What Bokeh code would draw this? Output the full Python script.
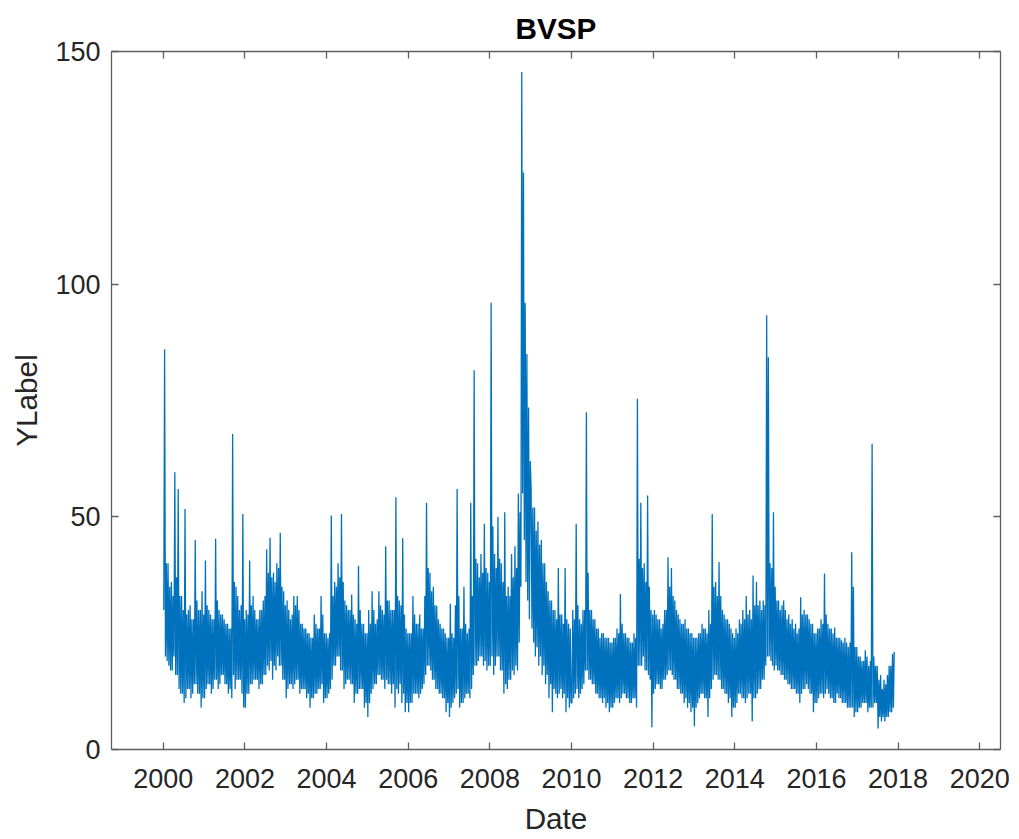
from bokeh.plotting import figure
from bokeh.models import Range1d, LinearAxis, FixedTicker, ColumnDataSource
from bokeh.embed import file_html
from bokeh.resources import INLINE

# Weekly readings of the BVSP series (4 per month, Jan..Dec), per year
vol_2000 = [30, 86, 20, 40,  19, 40, 18, 35,  17, 36, 17, 33,  20, 59.6, 16, 37,
            16, 56, 13, 33,  12, 33, 12, 30,  10, 51.7, 11, 29,  13, 30, 13, 31,
            11, 28, 12, 28,  14, 45, 14, 32,  12, 30, 12, 30,  9, 34, 11, 29]
vol_2001 = [11, 40.6, 13, 31,  14, 30, 14, 29,  12, 28, 13, 28,  15, 45.3, 15, 32,
            13, 30, 14, 29,  16, 29, 16, 28,  14, 27, 14, 27,  12, 26, 13, 26,
            11, 67.8, 16, 36,  13, 35, 15, 33,  15, 30, 15, 31,  12, 50.6, 9, 28]
vol_2002 = [9, 30, 12, 29,  12, 40.6, 14, 31,  14, 33, 15, 30,  15, 28, 15, 28,
            13, 30, 14, 30,  14, 32, 16, 33,  16, 43, 18, 38,  17, 45.5, 19, 37,
            15, 38, 18, 36,  17, 40, 20, 39,  18, 46.6, 18, 35,  15, 34, 15, 31]
vol_2003 = [11, 32, 13, 30,  14, 28, 14, 29,  13, 33, 14, 31,  15, 33, 15, 30,
            12, 27, 13, 27,  13, 26, 13, 26,  11, 25, 12, 25,  9, 24, 11, 24,
            11, 29, 12, 27,  12, 26, 13, 26,  13, 33, 14, 29,  10, 25, 11, 25]
vol_2004 = [11, 24, 12, 25,  13, 50.3, 15, 33,  18, 36, 18, 35,  20, 40, 20, 37,
            17, 50.6, 17, 36,  13, 32, 14, 31,  15, 30, 15, 30,  14, 33.3, 14, 29,
            10, 28, 12, 27,  12, 39.5, 13, 30,  13, 27, 13, 27,  9, 25, 10, 25]
vol_2005 = [7, 30, 10, 27,  12, 34, 13, 30,  14, 27, 14, 28,  16, 34, 16, 31,
            15, 30, 15, 29,  13, 43.7, 15, 32,  14, 32, 14, 30,  12, 30, 14, 30,
            9, 54.2, 13, 33,  12, 32, 14, 31,  10, 45.4, 12, 29,  8, 26, 10, 25]
vol_2006 = [8, 25, 10, 25,  10, 33, 12, 29,  12, 27, 12, 27,  11, 29, 12, 26,
            13, 26, 14, 33,  16, 53, 18, 39,  18, 38, 17, 34,  15, 35, 15, 31,
            13, 30.9, 13, 28,  12, 27, 12, 26,  11, 26, 11, 25,  8, 24, 10, 24]
vol_2007 = [7, 31.3, 9, 25,  10, 24, 11, 31,  12, 56, 13, 33,  9, 26, 10, 26,
            10, 35, 11, 27,  12, 25, 12, 26,  11, 53, 13, 33,  16, 81.5, 18, 41,
            18, 40, 19, 37,  20, 42, 20, 38,  18, 48.5, 19, 39,  17, 38, 18, 36]
vol_2008 = [18, 96, 20, 48,  16, 42, 18, 39,  20, 50, 20, 41,  17, 40, 17, 36,
            12, 51, 14, 33,  13, 35, 15, 33,  15, 42, 17, 37,  16, 43.7, 18, 39,
            17, 55, 23, 51,  35, 145.6, 55, 124,  45, 96, 36, 85,  32, 73.5, 28, 62]
vol_2009 = [56, 26, 52, 23,  52, 20, 47, 22,  49, 18, 44, 20,  45, 16, 40, 18,
            40, 14, 36, 16,  34, 11, 32, 14,  32, 8, 30, 13,  30, 12, 28, 11,
            39, 12, 29, 13,  29, 11, 27, 12,  39, 8, 28, 11,  27, 9, 26, 10]
vol_2010 = [10, 30, 11, 28,  12, 48.5, 13, 31,  11, 28, 12, 27,  13, 30, 14, 30,
            17, 72.5, 17, 38,  15, 30, 15, 30,  14, 28, 14, 28,  12, 26, 12, 26,
            11, 24, 11, 25,  10, 25, 11, 24,  9, 24, 10, 24,  8, 23, 9, 23]
vol_2011 = [9, 24, 10, 24,  11, 26, 11, 25,  10, 33.4, 11, 27,  12, 25, 12, 25,
            11, 24, 11, 24,  10, 23, 10, 23,  11, 25, 11, 24,  9, 75.4, 18, 41,
            18, 53, 18, 39,  20, 40, 17, 36,  17, 54.6, 16, 35,  15, 30, 4.8, 29]
vol_2012 = [12, 30, 13, 29,  14, 28, 14, 28,  13, 26, 13, 27,  15, 30, 15, 30,
            16, 41.3, 17, 35,  17, 39, 16, 33,  15, 32, 15, 30,  13, 29, 13, 28,
            12, 27, 12, 27,  10, 28, 11, 26,  9, 26, 10, 25,  8, 25, 9, 24]
vol_2013 = [5, 24, 9, 24,  10, 25, 11, 25,  12, 27, 12, 26,  11, 26, 11, 25,
            7, 30, 11, 27,  13, 50.6, 15, 35,  16, 36, 16, 33,  15, 40.3, 15, 33,
            13, 30, 13, 29,  12, 28, 12, 28,  10, 27, 11, 26,  7, 25, 9, 24]
vol_2014 = [9, 26, 10, 25,  12, 28, 12, 27,  11, 30, 11, 28,  10, 33, 11, 29,
            12, 30, 12, 28,  6, 37.4, 11, 31,  11, 36, 12, 31,  13, 32, 13, 30,
            15, 32, 15, 31,  18, 93.3, 20, 84.3,  20, 40, 19, 39,  18, 51, 17, 35]
vol_2015 = [18, 32, 17, 32,  17, 30, 16, 31,  16, 32, 15, 30,  15, 28, 14, 29,
            14, 27, 13, 28,  13, 26, 13, 27,  12, 25, 12, 26,  10, 32.7, 12, 29,
            13, 30, 13, 29,  14, 29, 13, 28,  12, 27, 12, 27,  8, 25, 10, 25]
vol_2016 = [10, 26, 11, 26,  12, 28, 12, 27,  11, 37.8, 12, 29,  13, 27, 12, 26,
            11, 26, 11, 25,  10, 26.2, 10, 24,  12, 24, 11, 24,  11, 23.5, 10, 23,
            10, 24, 10, 23,  9, 22, 9, 23,  9, 42.4, 9, 35,  7, 22, 8, 22]
vol_2017 = [8, 20, 9, 20,  9, 19, 10, 19,  10, 21.3, 10, 20,  8, 18, 9, 19,
            9, 65.7, 9, 20,  10, 18, 10, 18,  4.5, 15, 7, 16,  6, 13, 7, 15,
            6, 14, 7, 16,  7, 18, 8, 18,  8, 20.5, 9, 21]

years = list(range(2000, 2018))
yearly = [vol_2000, vol_2001, vol_2002, vol_2003, vol_2004, vol_2005, vol_2006, vol_2007, vol_2008,
          vol_2009, vol_2010, vol_2011, vol_2012, vol_2013, vol_2014, vol_2015, vol_2016, vol_2017]
points_per_year = 48

x_ticks = [2000, 2002, 2004, 2006, 2008, 2010, 2012, 2014, 2016, 2018, 2020]
y_ticks = [0, 50, 100, 150]

dates, vals = [], []
for yr, arr in zip(years, yearly):
    for i, v in enumerate(arr):
        dates.append(yr + (i + 0.5) / points_per_year)
        vals.append(v)

src = ColumnDataSource(data=dict(date=dates, vol=vals))

FONT = "Liberation Sans"
AX = "#5f5f5f"
TXT = "#262626"

p = figure(width=1011, height=839, output_backend="svg", toolbar_location=None,
           x_range=Range1d(1998.73, 2020.51), y_range=Range1d(0, 150),
           title="BVSP", x_axis_label="Date", y_axis_label="YLabel",
           min_border_left=111, min_border_right=11, min_border_top=51, min_border_bottom=90)
p.background_fill_color = "white"
p.border_fill_color = "white"
p.outline_line_color = None
p.xgrid.visible = False
p.ygrid.visible = False

p.title.text_font = FONT
p.title.text_font_size = "29.7px"
p.title.text_font_style = "bold"
p.title.text_color = "black"
p.title.align = "center"
p.title.standoff = 14
p.title.offset = 0

p.line("date", "vol", source=src, line_color="#0072BD", line_width=1.3)


def style(ax):
    ax.axis_line_color = AX
    ax.axis_line_width = 1.3
    ax.major_tick_line_color = AX
    ax.major_tick_line_width = 1.3
    ax.major_tick_in = 7
    ax.major_tick_out = 0
    ax.minor_tick_line_color = AX
    ax.minor_tick_line_width = 1.3
    ax.minor_tick_in = 0
    ax.minor_tick_out = 0
    ax.major_label_text_font = FONT
    ax.major_label_text_font_size = "27px"
    ax.major_label_text_color = TXT
    ax.axis_label_text_font = FONT
    ax.axis_label_text_font_size = "29.7px"
    ax.axis_label_text_font_style = "normal"
    ax.axis_label_text_color = TXT


xax = p.xaxis[0]
xax.ticker = FixedTicker(ticks=x_ticks)
style(xax)
xax.major_label_standoff = 19
xax.axis_label_standoff = 11

yax = p.yaxis[0]
yax.ticker = FixedTicker(ticks=y_ticks)
style(yax)
yax.major_label_standoff = 11
yax.axis_label_standoff = 9

# box sides: ticks only (as minor ticks, so no labels are drawn)
top = LinearAxis(ticker=FixedTicker(ticks=[], minor_ticks=x_ticks))
style(top)
top.minor_tick_in = 7
p.add_layout(top, "above")

right = LinearAxis(ticker=FixedTicker(ticks=[], minor_ticks=y_ticks))
style(right)
right.minor_tick_in = 7
p.add_layout(right, "right")

open("out.html", "w").write(file_html(p, INLINE))
